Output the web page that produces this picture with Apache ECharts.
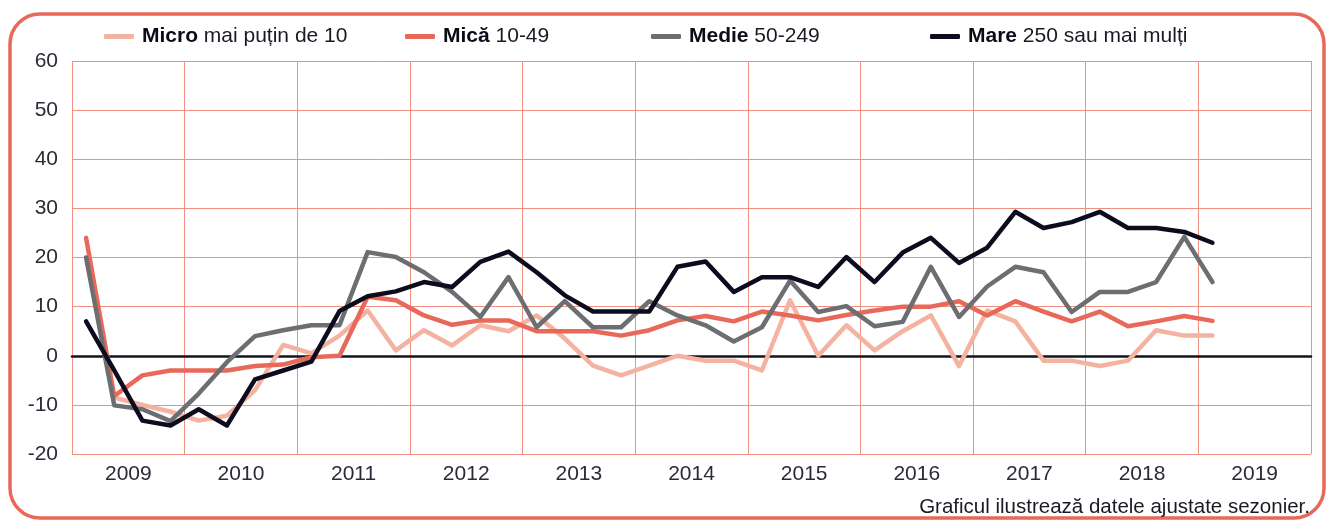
<!DOCTYPE html>
<html>
<head>
<meta charset="utf-8">
<script src="https://cdn.jsdelivr.net/npm/echarts@6/dist/echarts.min.js"></script>
<style>
  html, body { margin: 0; padding: 0; background: #fff; }
  #chart { width: 1330px; height: 522px; }
</style>
</head>
<body>
<div id="chart"></div>
<script>
// ani afisati pe axa X, fiecare cu 4 trimestre
const years = ['2009', '2010', '2011', '2012', '2013', '2014', '2015', '2016', '2017', '2018', '2019'];
const quarters = years.flatMap(y => ['T1', 'T2', 'T3', 'T4'].map(q => y + q));

// valori trimestriale, 2009T1 - 2019T1
const micro = [null, -8.5, -10, -11.4, -13.2, -12.2, -7, 2.2, 0.5, 4.1, 9.2, 1.1, 5.2, 2.1, 6.2, 5, 8.2, 3.5, -2, -4, -2, 0, -1, -1, -3, 11.3, 0, 6.2, 1.1, 5, 8.2, -2.1, 9.2, 7, -1, -1, -2.1, -1, 5.2, 4.1, 4.1];
const mica = [24, -8.2, -4, -3, -3, -3, -2.1, -1.8, -0.3, 0, 12, 11.3, 8.2, 6.3, 7.2, 7.2, 5, 5, 5, 4.1, 5.2, 7.2, 8.1, 7, 9, 8.2, 7.2, 8.3, 9.2, 10, 10, 11.1, 8.2, 11.1, 9, 7, 9, 6, 7, 8.1, 7.1];
const medie = [20, -10.1, -10.9, -13.3, -7.7, -1.3, 4, 5.2, 6.2, 6.2, 21.1, 20.1, 17, 13, 7.9, 16, 5.8, 11.1, 5.8, 5.8, 11.1, 8.2, 6.2, 2.9, 5.8, 15.3, 8.9, 10.1, 6, 6.9, 18.1, 7.9, 14.1, 18.1, 17, 8.9, 13, 13, 15, 24.2, 15];
const mare = [7, -3, -13.2, -14.2, -10.9, -14.2, -4.8, -3, -1.2, 9.1, 12.1, 13.1, 15, 14, 19.1, 21.2, 17, 12.3, 9, 9, 9, 18.1, 19.2, 13, 16, 16, 14, 20.1, 15, 21, 24, 18.9, 22, 29.3, 26, 27.2, 29.3, 26, 26, 25.2, 23];

const seriesNames = ['Micro', 'Mică', 'Medie', 'Mare'];
const seriesLabels = ['mai puțin de 10', '10-49', '50-249', '250 sau mai mulți'];
const seriesData = [micro, mica, medie, mare];
const colors = ['#f4b2a1', '#e8695a', '#6d6e71', '#0c0c1e'];

const font = 'Liberation Sans, Arial, sans-serif';
const textColor = '#2b2b38';
const gridColor = '#f09080';
const legendLeft = [99, 400, 646, 925];

const chart = echarts.init(document.getElementById('chart'));

chart.setOption({
  animation: false,
  color: colors,
  grid: { left: 72, right: 19, top: 61, bottom: 68 },
  legend: seriesNames.map((name, i) => ({
    data: [name],
    left: legendLeft[i],
    top: 21,
    icon: 'roundRect',
    itemWidth: 30,
    itemHeight: 5,
    selectedMode: false,
    formatter: n => '{b|' + n + '} ' + seriesLabels[i],
    textStyle: {
      fontFamily: font,
      fontSize: 21,
      color: '#1a1a24',
      padding: [0, 0, 0, 3],
      rich: { b: { fontFamily: font, fontSize: 21, fontWeight: 'bold', color: '#0c0c18' } }
    }
  })),
  xAxis: [
    {
      type: 'category',
      data: quarters,
      boundaryGap: true,
      axisLine: { onZero: true, lineStyle: { color: '#14141f', width: 2.5 } },
      axisTick: { show: false },
      axisLabel: { show: false },
      splitLine: { show: false }
    },
    {
      type: 'category',
      data: years,
      position: 'bottom',
      boundaryGap: true,
      axisLine: { show: false, onZero: false },
      axisTick: { show: false },
      axisLabel: { fontFamily: font, fontSize: 21, color: textColor, margin: 10 },
      splitLine: { show: true, lineStyle: { color: gridColor, width: 1 } }
    }
  ],
  yAxis: {
    type: 'value',
    min: -20,
    max: 60,
    interval: 10,
    axisLine: { show: false },
    axisTick: { show: false },
    axisLabel: { fontFamily: font, fontSize: 21, color: textColor, margin: 14 },
    splitLine: { lineStyle: { color: gridColor, width: 1 } }
  },
  series: seriesNames.map((name, i) => ({
    name: name,
    type: 'line',
    xAxisIndex: 0,
    data: seriesData[i],
    symbol: 'none',
    lineStyle: { width: 4.5, color: colors[i], cap: 'round', join: 'round' }
  })),
  graphic: [
    {
      type: 'rect',
      shape: { x: 10, y: 14, width: 1314, height: 504, r: 30 },
      style: { fill: 'none', stroke: '#e8685a', lineWidth: 3.5 },
      silent: true
    },
    {
      type: 'text',
      right: 20,
      top: 497,
      style: {
        text: 'Graficul ilustrează datele ajustate sezonier.',
        font: '20.5px ' + font,
        fill: '#1a1a24'
      }
    }
  ]
});
</script>
</body>
</html>
